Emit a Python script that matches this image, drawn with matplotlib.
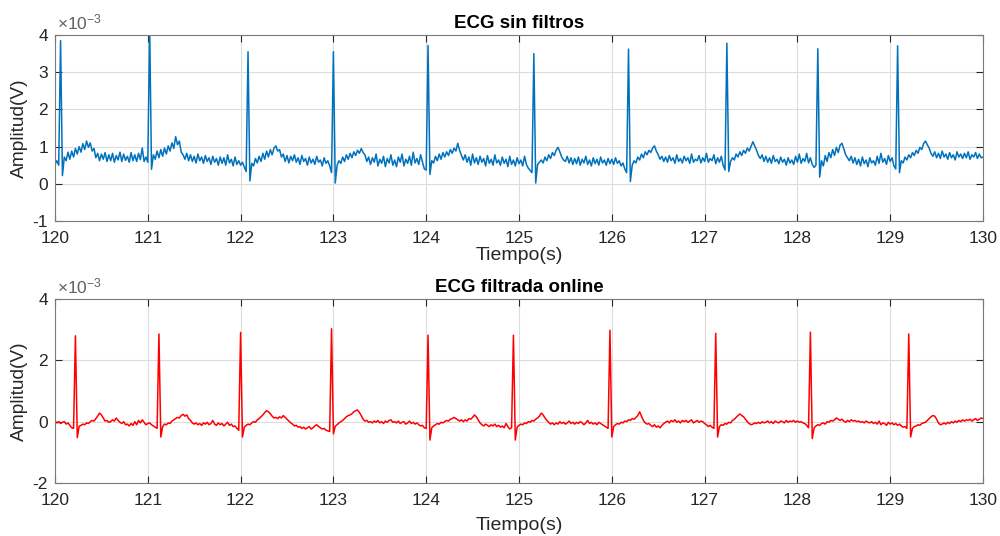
import numpy as np
import matplotlib
matplotlib.use("Agg")
import matplotlib.pyplot as plt
from matplotlib.ticker import FuncFormatter, MultipleLocator

plt.rcParams['font.family'] = ['Liberation Sans', 'DejaVu Sans']
plt.rcParams['axes.unicode_minus'] = False
plt.rcParams['mathtext.fontset'] = 'custom'
plt.rcParams['mathtext.rm'] = 'Liberation Sans'
plt.rcParams['mathtext.default'] = 'regular'

# ---------------- data (mV, sampled every 0.02 s from t = 120 s) ----------------
t_start = 120.0
dt = 0.02

ecg_raw_mv = [
    0.52, 0.62, 0.50, 3.85, 0.22, 0.72, 0.62, 0.85, 0.66, 0.88,
    0.72, 0.95, 0.80, 1.00, 0.85, 1.08, 0.92, 1.15, 0.98, 1.10,
    0.88, 0.95, 0.70, 0.82, 0.62, 0.80, 0.66, 0.84, 0.60, 0.78,
    0.62, 0.82, 0.58, 0.76, 0.64, 0.85, 0.60, 0.80, 0.63, 0.74,
    0.58, 0.84, 0.62, 0.78, 0.60, 0.82, 0.65, 0.96, 0.60, 0.72,
    0.58, 4.20, 0.39, 0.78, 0.66, 0.88, 0.70, 0.92, 0.74, 0.96,
    0.80, 1.02, 0.88, 1.10, 0.95, 1.27, 1.05, 1.15, 0.85, 0.78,
    0.66, 0.82, 0.62, 0.78, 0.60, 0.74, 0.56, 0.80, 0.62, 0.72,
    0.55, 0.76, 0.60, 0.70, 0.52, 0.74, 0.58, 0.68, 0.50, 0.72,
    0.55, 0.70, 0.50, 0.78, 0.56, 0.66, 0.48, 0.72, 0.52, 0.62,
    0.50, 0.58, 0.45, 0.33, 3.55, 0.08, 0.55, 0.48, 0.68, 0.56,
    0.74, 0.60, 0.82, 0.66, 0.88, 0.72, 0.92, 0.78, 0.96, 1.02,
    0.88, 0.92, 0.72, 0.80, 0.60, 0.76, 0.56, 0.74, 0.62, 0.78,
    0.58, 0.70, 0.52, 0.76, 0.60, 0.68, 0.50, 0.72, 0.56, 0.66,
    0.52, 0.74, 0.58, 0.64, 0.48, 0.70, 0.55, 0.62, 0.48, 0.30,
    3.55, 0.02, 0.50, 0.62, 0.55, 0.72, 0.60, 0.78, 0.66, 0.82,
    0.70, 0.86, 0.76, 0.90, 0.82, 0.95, 0.84, 0.78, 0.60, 0.72,
    0.52, 0.70, 0.58, 0.80, 0.48, 0.66, 0.55, 0.74, 0.46, 0.68,
    0.56, 0.78, 0.50, 0.64, 0.46, 0.72, 0.58, 0.80, 0.48, 0.66,
    0.55, 0.74, 0.50, 0.85, 0.56, 0.68, 0.52, 0.78, 0.58, 0.40,
    0.37, 3.72, 0.25, 0.62, 0.56, 0.74, 0.62, 0.80, 0.66, 0.84,
    0.72, 0.86, 0.76, 0.92, 0.82, 0.96, 0.88, 1.09, 0.90, 0.76,
    0.64, 0.78, 0.58, 0.72, 0.50, 0.80, 0.56, 0.70, 0.52, 0.74,
    0.58, 0.68, 0.48, 0.76, 0.55, 0.66, 0.50, 0.78, 0.56, 0.64,
    0.50, 0.72, 0.55, 0.66, 0.46, 0.74, 0.52, 0.64, 0.48, 0.70,
    0.54, 0.64, 0.48, 0.74, 0.52, 0.42, 0.36, 0.30, 3.50, 0.02,
    0.52, 0.58, 0.64, 0.56, 0.72, 0.62, 0.78, 0.68, 0.84, 0.76,
    0.90, 0.98, 0.86, 0.72, 0.64, 0.60, 0.74, 0.56, 0.70, 0.52,
    0.68, 0.54, 0.72, 0.50, 0.66, 0.56, 0.74, 0.52, 0.64, 0.48,
    0.70, 0.54, 0.66, 0.50, 0.72, 0.56, 0.64, 0.50, 0.68, 0.54,
    0.66, 0.52, 0.70, 0.55, 0.62, 0.48, 0.56, 0.40, 0.30, 3.62,
    0.06, 0.50, 0.62, 0.56, 0.72, 0.64, 0.80, 0.70, 0.86, 0.78,
    0.90, 0.84, 0.96, 1.02, 0.88, 0.78, 0.66, 0.74, 0.60, 0.72,
    0.58, 0.76, 0.62, 0.70, 0.55, 0.78, 0.60, 0.68, 0.56, 0.74,
    0.62, 0.70, 0.55, 0.80, 0.58, 0.66, 0.62, 0.76, 0.56, 0.70,
    0.60, 0.82, 0.58, 0.68, 0.62, 0.78, 0.54, 0.70, 0.58, 0.74,
    0.50, 0.37, 3.78, 0.33, 0.60, 0.70, 0.64, 0.80, 0.72, 0.86,
    0.76, 0.90, 0.82, 0.96, 0.88, 1.00, 1.13, 1.02, 0.90, 0.76,
    0.68, 0.78, 0.60, 0.74, 0.58, 0.70, 0.55, 0.76, 0.60, 0.66,
    0.54, 0.72, 0.58, 0.66, 0.50, 0.70, 0.56, 0.64, 0.52, 0.74,
    0.58, 0.80, 0.55, 0.68, 0.60, 0.82, 0.56, 0.70, 0.52, 0.44,
    0.50, 3.63, 0.18, 0.62, 0.48, 0.76, 0.60, 0.84, 0.70, 0.92,
    0.76, 0.98, 0.84, 1.04, 1.09, 0.94, 0.78, 0.70, 0.62, 0.74,
    0.56, 0.70, 0.52, 0.66, 0.48, 0.72, 0.54, 0.64, 0.46, 0.70,
    0.56, 0.62, 0.50, 0.74, 0.55, 0.82, 0.58, 0.68, 0.52, 0.76,
    0.60, 0.70, 0.48, 0.40, 3.71, 0.30, 0.62, 0.56, 0.72, 0.64,
    0.78, 0.70, 0.84, 0.76, 0.90, 0.82, 0.98, 0.92, 1.08, 1.15,
    1.05, 0.96, 0.82, 0.74, 0.86, 0.70, 0.82, 0.68, 0.88, 0.72,
    0.80, 0.66, 0.84, 0.70, 0.78, 0.64, 0.86, 0.72, 0.80, 0.68,
    0.82, 0.70, 0.86, 0.66, 0.78, 0.72, 0.84, 0.68, 0.80, 0.70,
    0.72,
]

ecg_filt_mv = [
    0.02, -0.04, 0.00, -0.06, -0.02, 0.00, -0.08, -0.04, -0.12, -0.20,
    -0.22, 2.80, -0.52, -0.15, -0.12, -0.08, -0.10, -0.04, -0.06, 0.00,
    0.04, 0.02, 0.10, 0.18, 0.28, 0.22, 0.12, 0.02, 0.04, -0.02,
    0.00, 0.06, 0.02, 0.12, 0.04, -0.02, -0.06, 0.00, -0.10, -0.08,
    -0.14, -0.06, -0.12, 0.00, -0.10, 0.04, -0.04, 0.06, -0.02, -0.10,
    -0.06, -0.04, -0.10, -0.14, -0.18, -0.22, 2.86, -0.50, -0.16, -0.08,
    -0.10, -0.04, -0.06, 0.02, 0.06, 0.10, 0.14, 0.12, 0.20, 0.24,
    0.18, 0.22, 0.10, 0.04, -0.04, -0.08, -0.04, -0.10, -0.06, -0.12,
    -0.04, -0.08, -0.02, -0.10, -0.06, 0.04, -0.08, -0.12, -0.04, -0.10,
    -0.06, -0.14, -0.08, -0.02, -0.12, -0.08, -0.16, -0.14, -0.22, -0.28,
    2.91, -0.50, -0.18, -0.12, -0.08, -0.10, -0.04, 0.00, -0.02, 0.06,
    0.10, 0.16, 0.22, 0.30, 0.36, 0.32, 0.26, 0.18, 0.12, 0.14,
    0.10, 0.16, 0.12, 0.20, 0.14, 0.08, 0.02, -0.04, -0.08, -0.14,
    -0.12, -0.18, -0.16, -0.22, -0.18, -0.24, -0.20, -0.16, -0.24, -0.20,
    -0.14, -0.10, -0.16, -0.20, -0.24, -0.22, -0.28, -0.30, -0.32, 3.03,
    -0.40, -0.15, -0.10, -0.04, 0.00, 0.04, 0.10, 0.16, 0.20, 0.22,
    0.26, 0.32, 0.36, 0.38, 0.30, 0.20, 0.08, 0.02, 0.04, -0.02,
    0.00, -0.04, 0.02, -0.02, 0.04, -0.04, 0.00, -0.06, 0.02, -0.02,
    0.04, 0.06, -0.02, 0.00, -0.04, 0.02, -0.06, -0.02, 0.00, -0.08,
    -0.04, 0.02, -0.06, -0.02, -0.08, -0.04, -0.10, -0.14, -0.12, -0.20,
    -0.22, 2.82, -0.60, -0.20, -0.14, -0.10, -0.06, -0.08, -0.02, -0.04,
    0.00, 0.04, 0.02, 0.08, 0.10, 0.14, 0.10, 0.06, 0.02, 0.06,
    0.00, 0.06, 0.02, 0.10, 0.08, 0.14, 0.22, 0.16, 0.06, -0.04,
    -0.10, -0.14, -0.08, -0.12, -0.16, -0.10, -0.14, -0.08, -0.16, -0.12,
    -0.18, -0.14, -0.20, -0.06, -0.16, -0.24, -0.20, 2.82, -0.60, -0.18,
    -0.12, -0.08, -0.10, -0.04, -0.06, 0.00, -0.02, 0.04, 0.02, 0.08,
    0.12, 0.18, 0.28, 0.22, 0.12, 0.04, -0.02, -0.08, -0.04, -0.10,
    -0.04, -0.08, 0.00, -0.06, -0.02, -0.08, -0.04, 0.02, -0.06, -0.02,
    -0.08, -0.02, -0.06, 0.00, -0.04, -0.10, -0.04, 0.04, -0.06, -0.02,
    -0.08, -0.04, -0.10, -0.02, -0.06, -0.10, -0.14, -0.18, -0.22, 2.98,
    -0.50, -0.16, -0.10, -0.06, -0.08, -0.02, -0.04, 0.02, 0.00, 0.06,
    0.04, 0.10, 0.08, 0.14, 0.20, 0.32, 0.18, 0.04, -0.04, -0.08,
    -0.06, -0.12, -0.16, -0.10, -0.18, -0.14, -0.20, -0.12, -0.06, -0.02,
    0.02, -0.04, 0.04, 0.00, 0.06, -0.02, 0.02, -0.04, 0.04, 0.00,
    0.04, -0.02, 0.02, 0.06, -0.04, 0.00, 0.04, -0.02, 0.02, 0.00,
    -0.06, -0.10, -0.16, -0.12, -0.18, -0.22, 2.88, -0.50, -0.16, -0.10,
    -0.12, -0.06, -0.08, -0.02, -0.04, 0.04, 0.08, 0.14, 0.20, 0.25,
    0.20, 0.16, 0.08, 0.00, -0.06, -0.10, -0.08, -0.04, -0.06, -0.02,
    -0.06, 0.00, -0.04, -0.02, 0.02, -0.04, 0.00, -0.06, 0.02, -0.02,
    -0.04, 0.02, 0.00, -0.04, 0.04, -0.02, 0.02, 0.00, 0.04, -0.02,
    0.02, -0.02, 0.00, -0.04, -0.06, -0.12, -0.20, 2.92, -0.55, -0.20,
    -0.14, -0.10, -0.12, -0.06, -0.04, -0.08, 0.00, -0.02, 0.04, 0.02,
    0.06, 0.12, 0.08, 0.04, 0.08, 0.02, -0.02, 0.04, 0.00, 0.06,
    0.02, 0.04, 0.00, 0.02, -0.02, 0.00, -0.04, 0.02, -0.02, -0.04,
    0.00, -0.06, -0.02, -0.08, 0.02, -0.10, -0.04, -0.06, -0.12, -0.02,
    -0.08, -0.04, -0.10, -0.06, -0.12, -0.08, -0.14, -0.18, -0.16, -0.22,
    2.86, -0.50, -0.22, -0.16, -0.14, -0.10, -0.12, -0.06, -0.04, -0.02,
    0.04, 0.10, 0.16, 0.20, 0.18, 0.08, -0.04, -0.10, -0.08, -0.04,
    -0.08, -0.02, -0.06, 0.00, -0.04, 0.02, -0.02, 0.04, 0.00, 0.06,
    0.02, 0.06, 0.04, 0.08, 0.02, 0.06, 0.10, 0.04, 0.08, 0.12,
    0.10,
]

titles = ["ECG sin filtros", "ECG filtrada online"]
x_label = "Tiempo(s)"
y_label = "Amplitud(V)"
exp_label = "\u00d710$^{-3}$"
x_limits = (120, 130)
y_limits = [(-1e-3, 4e-3), (-2e-3, 4e-3)]
y_steps = [1e-3, 2e-3]
colors = ["#0072BD", "#FF0000"]

# ---------------- figure ----------------
W, H = 1000, 536
fig = plt.figure(figsize=(W / 100, H / 100), dpi=100)
fig.patch.set_facecolor("white")

rects = [
    [55 / W, 1 - 221 / H, 928 / W, 186 / H],
    [55 / W, 1 - 483 / H, 928 / W, 184 / H],
]
# top edge of the x label, in pixels below the axes bottom
xlabel_gap = [26, 34]

series = [ecg_raw_mv, ecg_filt_mv]
txt = "#262626"
ytick_fmt = FuncFormatter(lambda v, p: "%d" % round(v * 1e3))
for i in range(2):
    ax = fig.add_axes(rects[i])
    vals = np.asarray(series[i]) * 1e-3
    t = t_start + dt * np.arange(len(vals))
    ax.plot(t, vals, color=colors[i], lw=1.1)
    ax.set_xlim(*x_limits)
    ax.set_ylim(*y_limits[i])
    ax.xaxis.set_major_locator(MultipleLocator(1))
    ax.yaxis.set_major_locator(MultipleLocator(y_steps[i]))
    ax.yaxis.set_major_formatter(ytick_fmt)
    ax.grid(True, color="#dcdcdc", lw=0.8)
    ax.set_axisbelow(True)
    ax.tick_params(direction="in", top=True, right=True, length=5,
                   labelsize=12.5, colors=txt, width=0.8)
    ax.tick_params(axis="x", pad=7)
    ax.tick_params(axis="y", pad=5)
    for sp in ax.spines.values():
        sp.set_color("#7a7a7a")
        sp.set_linewidth(0.8)
    ax.set_title(titles[i], fontsize=13.5, fontweight="bold", color="black", pad=5)
    ax.set_xlabel(x_label, fontsize=14, color=txt)
    ax.set_ylabel(y_label, fontsize=13.8, color=txt)
    h_px = rects[i][3] * H
    w_px = rects[i][2] * W
    ax.xaxis.set_label_coords(0.5, -xlabel_gap[i] / h_px)
    ax.yaxis.set_label_coords(-27 / w_px, 0.5)
    ax.text(2 / w_px, 1 + 3 / h_px, exp_label, transform=ax.transAxes,
            ha="left", va="bottom", fontsize=12.5, color="#606060")

fig.savefig("out.png", dpi=100, facecolor="white")
